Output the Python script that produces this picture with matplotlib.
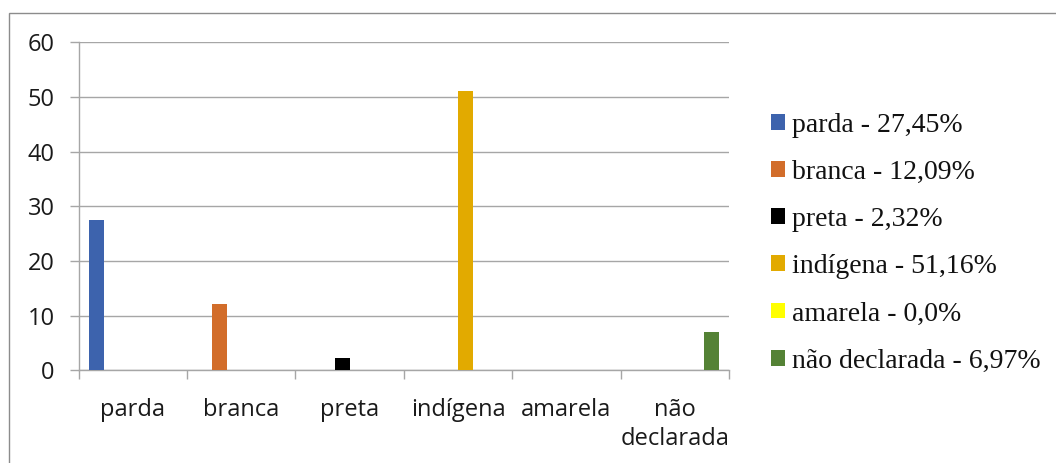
import numpy as np
import matplotlib
matplotlib.use("Agg")
import matplotlib.pyplot as plt
from matplotlib.patches import Rectangle

categories = ["parda", "branca", "preta", "indígena", "amarela", "não\ndeclarada"]
values = [27.45, 12.09, 2.32, 51.16, 0.0, 6.97]
legend_labels = ["parda - 27,45%", "branca - 12,09%", "preta - 2,32%",
                 "indígena - 51,16%", "amarela - 0,0%", "não declarada - 6,97%"]
colors = ["#3D63AD", "#D26D2A", "#000000", "#E2AA00", "#FFFF00", "#548235"]
yticks = [0, 10, 20, 30, 40, 50, 60]

grid_color = "#A6A6A6"

fig = plt.figure(figsize=(10.56, 4.63), dpi=100)
ax = fig.add_axes([0.0745, 0.2002, 0.6158, 0.7084])

# clustered layout: one series per category, each series keeps its slot in the group
n = len(categories)
x = np.arange(n)
width = 0.1347
bars = []
for i in range(n):
    series = np.where(x == i, values[i], 0.0)
    b = ax.bar(x + (i - (n - 1) / 2) * width, series, width,
               color=colors[i], label=legend_labels[i], zorder=3)
    bars.append(b)

ax.set_xlim(-0.5, n - 0.5)
ax.set_ylim(0, 60)
ax.set_yticks(yticks)
ax.yaxis.grid(True, color=grid_color, linewidth=1.0, zorder=0)

for side in ["top", "right"]:
    ax.spines[side].set_visible(False)
for side in ["left", "bottom"]:
    ax.spines[side].set_color(grid_color)
    ax.spines[side].set_linewidth(1.0)

ax.set_xticks(x)
ax.set_xticklabels(categories, fontfamily="Open Sans", fontsize=17,
                   color="#1a1a1a", linespacing=1.3)
ax.set_xticks(np.arange(-0.5, n, 1.0), minor=True)
ax.tick_params(axis="x", which="major", length=0, pad=20)
ax.tick_params(axis="x", which="minor", length=6.5, width=1.0, color=grid_color)
ax.tick_params(axis="y", length=6.3, width=1.0, color=grid_color, pad=11)
for lbl in ax.get_yticklabels():
    lbl.set_fontfamily("Open Sans")
    lbl.set_fontsize(17)
    lbl.set_color("#1a1a1a")

leg = fig.legend(handles=bars, loc="center left", bbox_to_anchor=(0.730, 0.475),
                 frameon=False, borderpad=0, borderaxespad=0,
                 handlelength=0.5, handleheight=0.5, handletextpad=0.25,
                 labelspacing=0.8,
                 prop={"family": "Liberation Serif", "size": 20})
for t in leg.get_texts():
    t.set_color("#111111")

# chart area border
fig.add_artist(Rectangle((9 / 1056, -0.2), 1.5, 1.2 - 12.5 / 463,
                         transform=fig.transFigure, fill=False,
                         edgecolor="#8C8C8C", linewidth=1.0))

fig.savefig("out.png", dpi=100)
